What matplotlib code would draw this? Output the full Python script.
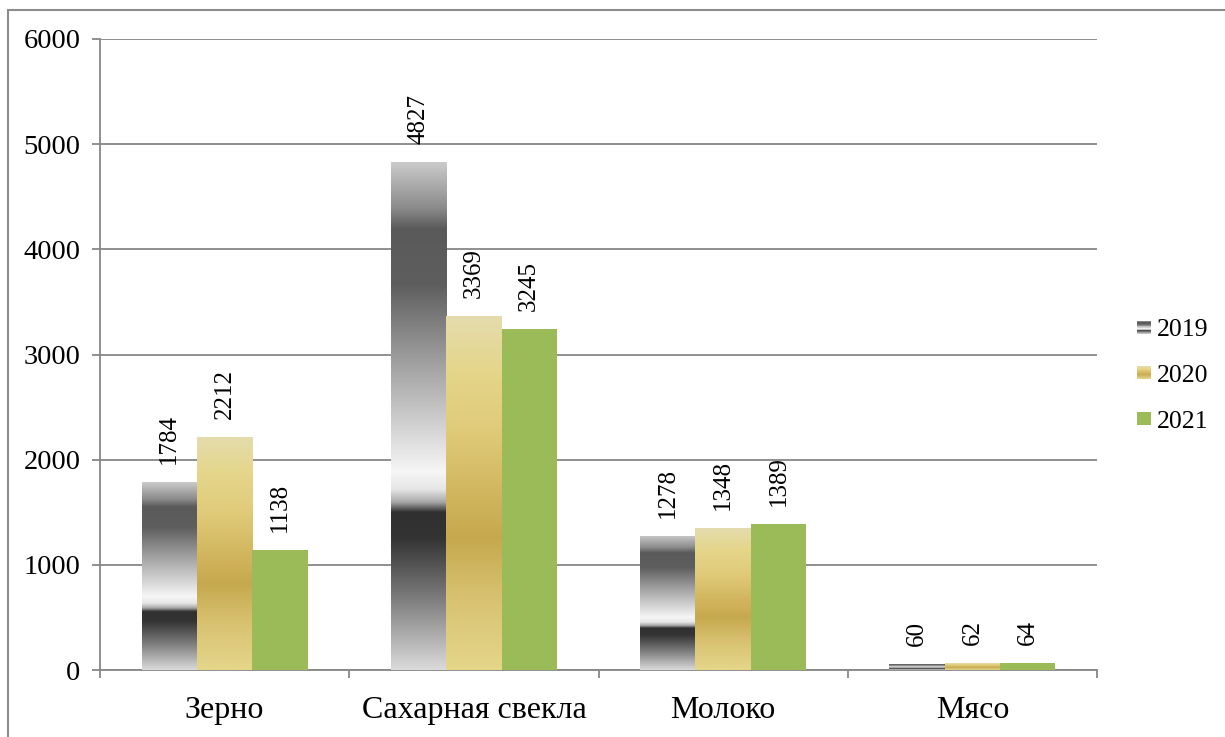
import numpy as np
import matplotlib
matplotlib.use('Agg')
import matplotlib.pyplot as plt
from matplotlib.colors import LinearSegmentedColormap
from matplotlib.patches import Rectangle
from matplotlib.legend_handler import HandlerBase

# data
categories = ['Зерно', 'Сахарная свекла', 'Молоко', 'Мясо']
years = ['2019', '2020', '2021']
v2019 = [1784, 4827, 1278, 60]
v2020 = [2212, 3369, 1348, 62]
v2021 = [1138, 3245, 1389, 64]

plt.rcParams['font.family'] = ['Liberation Serif', 'DejaVu Serif']

# gradients go from the top of the bar (0) to its bottom (1)
gray_cmap = LinearSegmentedColormap.from_list('metal', [
    (0.0, '#cacaca'), (0.09, '#8a8a8a'), (0.13, '#5a5a5a'), (0.24, '#5e5e5e'),
    (0.38, '#9a9a9a'), (0.52, '#d2d2d2'), (0.61, '#f6f6f6'), (0.645, '#e6e6e6'),
    (0.67, '#a8a8a8'), (0.69, '#303030'), (0.74, '#333333'), (0.86, '#7c7c7c'),
    (1.0, '#dadada')])
gold_cmap = LinearSegmentedColormap.from_list('gold', [
    (0.0, '#e4dcae'), (0.15, '#e5d68b'), (0.32, '#e0cb7a'), (0.5, '#d2b65f'),
    (0.63, '#c6a94e'), (0.8, '#d8c272'), (1.0, '#e5d68a')])
green = '#9bbb59'


class GradHandler(HandlerBase):
    def __init__(self, cmap):
        super().__init__()
        self.cmap = cmap

    def create_artists(self, legend, orig_handle, xdescent, ydescent,
                       width, height, fontsize, trans):
        n = 16
        arts = []
        for i in range(n):
            y0 = -ydescent + height * (1 - (i + 1) / n)
            arts.append(Rectangle((-xdescent, y0), width, height / n,
                                  facecolor=self.cmap((i + 0.5) / n),
                                  edgecolor='none', transform=trans))
        return arts


fig = plt.figure(figsize=(12.25, 7.37), dpi=100)
ax = fig.add_axes([100 / 1225, 1 - 670 / 737, 997 / 1225, 631 / 737])

x = np.arange(len(categories))
w = 0.222
grad = np.linspace(0, 1, 256).reshape(-1, 1)

series = [(v2019, gray_cmap), (v2020, gold_cmap), (v2021, None)]
handles = []
for i, (vals, cmap) in enumerate(series):
    if cmap is None:
        bars = ax.bar(x + (i - 1) * w, vals, w, color=green, zorder=3, label=years[i])
    else:
        bars = ax.bar(x + (i - 1) * w, vals, w, color='none', zorder=3, label=years[i])
        for b in bars:
            x0, y0 = b.get_x(), b.get_y()
            im = ax.imshow(grad, cmap=cmap, aspect='auto', origin='upper',
                           extent=(x0, x0 + b.get_width(), y0, y0 + b.get_height()),
                           interpolation='bilinear', zorder=3)
            im.set_clip_path(b)
    handles.append(bars)
    for b, v in zip(bars, vals):
        ax.annotate(str(v), (b.get_x() + b.get_width() / 2, b.get_height()),
                    xytext=(0, 13), textcoords='offset points',
                    rotation=90, ha='center', va='bottom', fontsize=18)

ax.set_xlim(-0.5, 3.5)
ax.set_ylim(0, 6000)
ax.set_yticks(range(0, 6001, 1000))
ax.yaxis.grid(True, color='#878787', lw=1.3, zorder=0)

ax.set_xticks(np.arange(-0.5, 3.6, 1))
ax.set_xticklabels([])
ax.set_xticks(x, minor=True)
ax.set_xticklabels(categories, minor=True)
ax.tick_params(axis='x', which='major', direction='out', length=6, width=1.3, color='#878787')
ax.tick_params(axis='x', which='minor', length=0, pad=19, labelsize=23)
ax.tick_params(axis='y', direction='out', length=6, width=1.3, color='#878787', pad=8, labelsize=20.5)

for s in ['top', 'right']:
    ax.spines[s].set_visible(False)
for s in ['left', 'bottom']:
    ax.spines[s].set_color('#878787')
    ax.spines[s].set_linewidth(1.3)

ax.legend(handles, years, loc='center left', bbox_to_anchor=(1137 / 1225, 1 - 376 / 737),
          bbox_transform=fig.transFigure, frameon=False, fontsize=18.5,
          handlelength=0.55, handleheight=0.4, handletextpad=0.22, labelspacing=0.92,
          borderpad=0, borderaxespad=0,
          handler_map={handles[0]: GradHandler(gray_cmap), handles[1]: GradHandler(gold_cmap)})

# outer chart frame (only top and left edges visible in the picture)
fig.add_artist(Rectangle((8 / 1225, -0.5), 2, 0.5 + 1 - 10 / 737, transform=fig.transFigure,
                         fill=False, edgecolor='#8c8c8c', lw=1.5))

fig.savefig('out.png', dpi=100)
